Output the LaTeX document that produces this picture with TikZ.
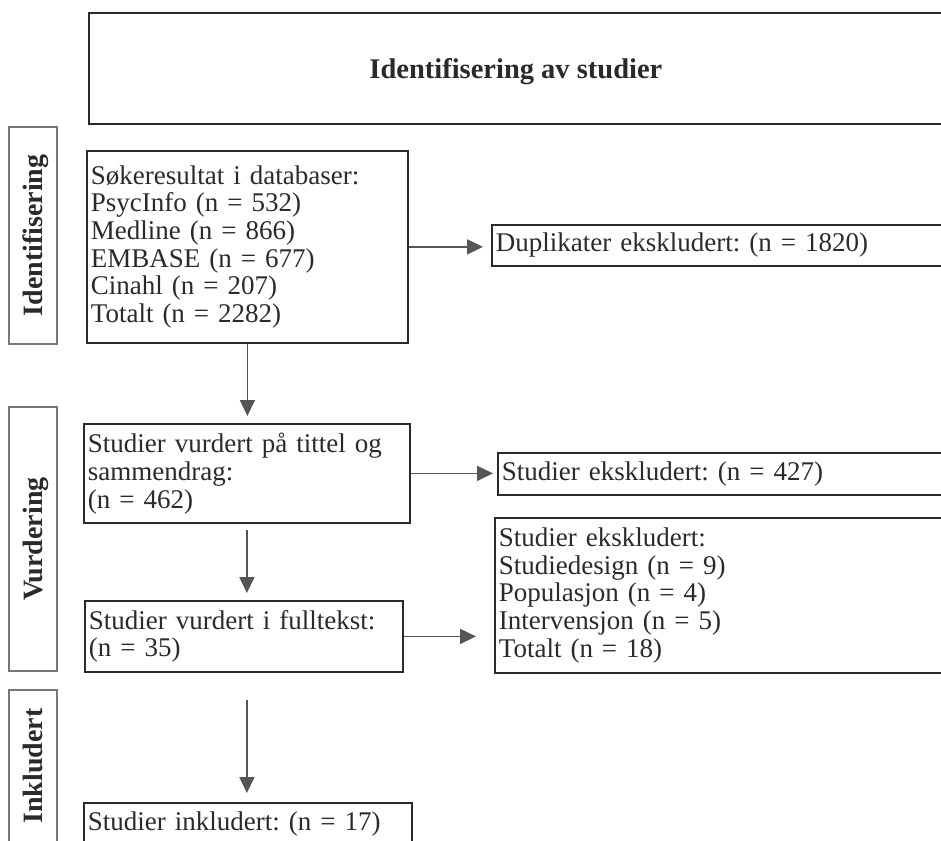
\documentclass[tikz,border=0pt]{standalone}
\usepackage{fontspec}
\setmainfont{Liberation Serif}
\usetikzlibrary{arrows.meta,calc}
\definecolor{boxc}{HTML}{2A2A2A}
\definecolor{arrc}{HTML}{555555}
\definecolor{txtc}{HTML}{2A2A2A}
\definecolor{labc}{HTML}{777777}
\newcommand{\bodyfont}{\fontsize{27}{27.7}\selectfont}
\newcommand{\boldfont}{\fontsize{28}{30}\selectfont\bfseries}
\frenchspacing
\tikzset{
  flowbox/.style={draw=boxc, line width=1.8pt, inner xsep=4pt, inner ysep=0pt,
    align=left, anchor=north west, text=txtc, font=\bodyfont},
  phasebox/.style={draw=labc, line width=1.8pt, rotate=90, inner sep=0pt,
    text=txtc, font=\boldfont, text height=19pt, text depth=0pt, minimum height=48pt},
  flowarr/.style={draw=arrc, line width=1.6pt, -{Triangle[length=16pt,width=15pt]}}
}
\begin{document}
\begin{tikzpicture}[x=1pt,y=1pt]
\useasboundingbox (0,0) rectangle (941,-840);
\clip (0,0) rectangle (941,-840);
% title
\node[draw=boxc, line width=1.8pt, anchor=north west, minimum width=854pt, minimum height=111pt,
  inner sep=0pt, text=txtc, font=\fontsize{28.5}{30}\selectfont\bfseries,
  text height=20pt, text depth=0pt] (title) at (88,-12) {Identifisering av studier};
% phase labels
\node[phasebox, minimum width=217pt] (lid) at (33,-235.5) {Identifisering};
\node[phasebox, minimum width=264pt] (lvu) at (33,-539) {Vurdering};
\node[phasebox, minimum width=152pt] (lin) at (33,-766) {Inkludert};
% boxes
\node[flowbox, text width=313pt, minimum height=192pt] (sok) at (86,-150)
  {Søkeresultat i databaser:\\PsycInfo (n = 532)\\Medline (n = 866)\\EMBASE (n = 677)\\Cinahl (n = 207)\\Totalt (n = 2282)};
\node[flowbox, text width=455pt, minimum height=41pt] (dup) at (491,-224)
  {Duplikater ekskludert: (n = 1820)};
\node[flowbox, text width=318pt, minimum height=99pt] (vurd) at (83,-423)
  {Studier vurdert på tittel og\\sammendrag:\\(n = 462)};
\node[flowbox, text width=449pt, minimum height=42pt] (e427) at (497,-452)
  {Studier ekskludert: (n = 427)};
\node[flowbox, text width=310pt, minimum height=71pt] (full) at (84,-600)
  {Studier vurdert i fulltekst:\\(n = 35)};
\node[flowbox, text width=452pt, minimum height=155pt] (e18) at (494,-517)
  {Studier ekskludert:\\Studiedesign (n = 9)\\Populasjon (n = 4)\\Intervensjon (n = 5)\\Totalt (n = 18)};
\node[flowbox, text width=320pt, minimum height=42pt] (inkl) at (83,-802)
  {Studier inkludert: (n = 17)};
% connectors
\draw[flowarr, shorten >=8pt] (sok.east) -- (sok.east -| dup.west);
\draw[flowarr, shorten >=7pt] (sok.south) -- (sok.south |- vurd.north);
\draw[flowarr, shorten >=4pt] (vurd.east) -- (vurd.east -| e427.west);
\draw[flowarr, shorten <=6pt, shorten >=7pt] (vurd.south) -- (vurd.south |- full.north);
\draw[flowarr, shorten >=18pt] (full.east) -- (full.east -| e18.west);
\draw[flowarr, shorten <=27pt, shorten >=9pt] (vurd.south |- full.south) -- (vurd.south |- inkl.north);
\end{tikzpicture}
\end{document}
